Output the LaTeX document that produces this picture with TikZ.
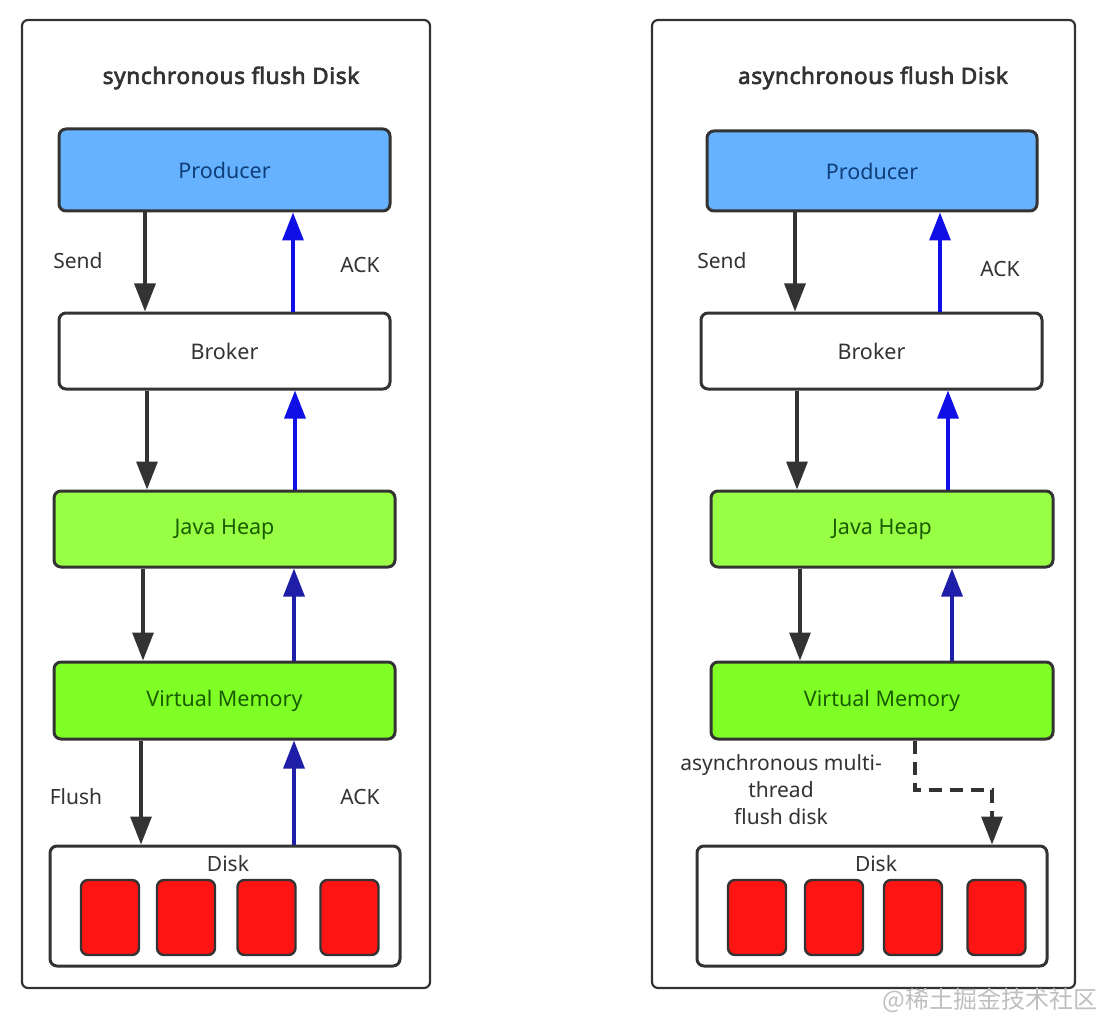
\documentclass[tikz,border=0pt]{standalone}
\usepackage{fontspec}
\setmainfont{Noto Sans}[AutoFakeBold=2.5]
\newfontfamily\ttlfont{Noto Sans}[AutoFakeBold=3, LetterSpace=3]
\newfontfamily\cjkfont{Noto Sans CJK SC}
\usetikzlibrary{arrows.meta}
\definecolor{edge}{HTML}{333333}
\definecolor{prodfill}{HTML}{66B2FF}
\definecolor{prodtext}{HTML}{0F3F7A}
\definecolor{heapfill}{HTML}{99FF44}
\definecolor{vmfill}{HTML}{80FF26}
\definecolor{greentext}{HTML}{1A5C00}
\definecolor{redfill}{HTML}{FF1414}
\definecolor{ackblue}{HTML}{1010E6}
\definecolor{ackdark}{HTML}{1E1EA8}
\definecolor{labeltext}{HTML}{333333}
\tikzset{
  panel/.style={draw=edge, line width=2.2pt, rounded corners=6pt, fill=white},
  box/.style={draw=edge, line width=3pt, rounded corners=7pt, inner sep=0pt, font=\fontsize{21.5}{25}\selectfont},
  redbox/.style={draw=edge, line width=2.4pt, rounded corners=7pt, fill=redfill, minimum width=58pt, minimum height=75pt, inner sep=0pt},
  lbl/.style={text=labeltext, font=\fontsize{21}{27}\selectfont, inner sep=0pt},
  ttl/.style={text=labeltext, font=\ttlfont\fontsize{22.5}{26}\selectfont\bfseries, inner sep=0pt},
  tip/.style={-{Triangle[width=21pt,length=28pt]}},
  blk/.style={draw=edge, line width=3.2pt, tip},
  ack/.style={draw=ackblue, line width=3.2pt, tip},
  ackd/.style={draw=ackdark, line width=3.2pt, tip},
  dsh/.style={draw=edge, line width=3.2pt, dash pattern=on 13pt off 8pt, tip},
}
\begin{document}
\begin{tikzpicture}[x=1pt,y=-1pt]
\useasboundingbox[fill=white] (0,0) rectangle (1116,1024);

% panels
\node[panel, minimum width=408pt, minimum height=968pt] (panL) at (226,504) {};
\node[panel, minimum width=423pt, minimum height=968pt] (panR) at (863.5,504) {};

% titles
\node[ttl] (ttlL) at (231,78) {synchronous flush Disk};
\node[ttl] (ttlR) at (873,78) {asynchronous flush Disk};

% left column
\node[box, fill=prodfill, text=prodtext, minimum width=331pt, minimum height=82pt] (prodL) at (224.5,170) {Producer};
\node[box, fill=white, text=labeltext, minimum width=331pt, minimum height=76pt] (brokL) at (224.5,351) {Broker};
\node[box, fill=heapfill, text=greentext, minimum width=341pt, minimum height=76pt] (jhL) at (224.5,529) {Java Heap};
\node[box, fill=vmfill, text=greentext, minimum width=341pt, minimum height=77pt] (vmL) at (224.5,700.5) {Virtual Memory};
\node[box, fill=white, minimum width=350pt, minimum height=120pt] (diskL) at (225,906) {};
\node[lbl] (diskLt) at (228,864) {Disk};
\node[redbox] (rL1) at (110,917.5) {};
\node[redbox] (rL2) at (186,917.5) {};
\node[redbox] (rL3) at (266.5,917.5) {};
\node[redbox] (rL4) at (349.5,917.5) {};

% right column
\node[box, fill=prodfill, text=prodtext, minimum width=330pt, minimum height=80pt] (prodR) at (872,171) {Producer};
\node[box, fill=white, text=labeltext, minimum width=341pt, minimum height=76pt] (brokR) at (871.5,351) {Broker};
\node[box, fill=heapfill, text=greentext, minimum width=342pt, minimum height=76pt] (jhR) at (882,529) {Java Heap};
\node[box, fill=vmfill, text=greentext, minimum width=342pt, minimum height=77pt] (vmR) at (882,700.5) {Virtual Memory};
\node[box, fill=white, minimum width=350pt, minimum height=120pt] (diskR) at (872,906) {};
\node[lbl] (diskRt) at (876,864) {Disk};
\node[redbox] (rR1) at (757,917.5) {};
\node[redbox] (rR2) at (834,917.5) {};
\node[redbox] (rR3) at (913,917.5) {};
\node[redbox] (rR4) at (996.5,917.5) {};

% labels
\node[lbl] (sendL) at (78,261) {Send};
\node[lbl] (ackL1) at (360,265) {ACK};
\node[lbl] (flushL) at (76,797) {Flush};
\node[lbl] (ackL2) at (360,797) {ACK};
\node[lbl] (sendR) at (722,261) {Send};
\node[lbl] (ackR1) at (1000,269) {ACK};
\node[lbl, align=center] (asyncR) at (781,790) {asynchronous multi-\\thread\\flush disk};

% left arrows
\draw[blk] (prodL.south -| 145,0) -- (brokL.north -| 145,0);
\draw[blk] (brokL.south -| 147,0) -- (jhL.north -| 147,0);
\draw[blk] (jhL.south -| 143,0) -- (vmL.north -| 143,0);
\draw[blk] (vmL.south -| 141,0) -- (diskL.north -| 141,0);
\draw[ack] (brokL.north -| 293,0) -- (prodL.south -| 293,0);
\draw[ack] (jhL.north -| 295,0) -- (brokL.south -| 295,0);
\draw[ackd] (vmL.north -| 294,0) -- (jhL.south -| 294,0);
\draw[ackd] (diskL.north -| 294,0) -- (vmL.south -| 294,0);

% right arrows
\draw[blk] (prodR.south -| 795,0) -- (brokR.north -| 795,0);
\draw[blk] (brokR.south -| 797,0) -- (jhR.north -| 797,0);
\draw[blk] (jhR.south -| 800,0) -- (vmR.north -| 800,0);
\draw[ack] (brokR.north -| 940,0) -- (prodR.south -| 940,0);
\draw[ack] (jhR.north -| 948,0) -- (brokR.south -| 948,0);
\draw[ackd] (vmR.north -| 952,0) -- (jhR.south -| 952,0);
\coordinate (bendA) at (915,790);
\coordinate (bendB) at (992,790);
\draw[dsh] (vmR.south -| bendA) -- (bendA) -- (bendB) -- (diskR.north -| bendB);

% watermark
\node[text=black!25, font=\cjkfont\fontsize{24}{28}\selectfont, inner sep=0pt] (wm) at (990,1000) {@稀土掘金技术社区};
\end{tikzpicture}
\end{document}
